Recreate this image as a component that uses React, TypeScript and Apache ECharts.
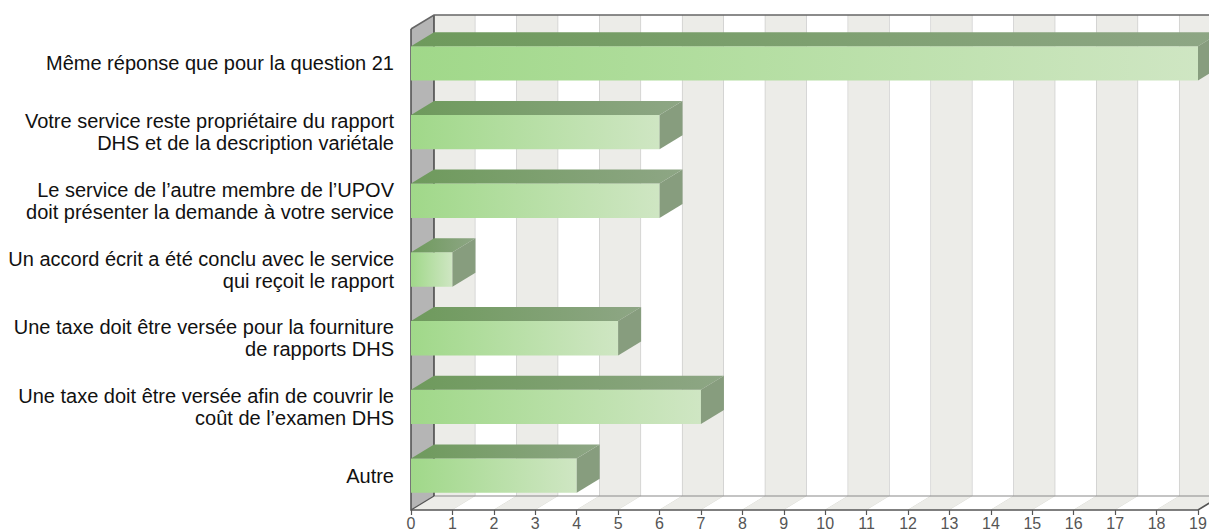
import React, { useEffect, useRef } from "react";
import * as echarts from "echarts";

const categories = [
  "Même réponse que pour la question 21",
  "Votre service reste propriétaire du rapport\nDHS et de la description variétale",
  "Le service de l’autre membre de l’UPOV\ndoit présenter la demande à votre service",
  "Un accord écrit a été conclu avec le service\nqui reçoit le rapport",
  "Une taxe doit être versée pour la fourniture\nde rapports DHS",
  "Une taxe doit être versée afin de couvrir le\ncoût de l’examen DHS",
  "Autre",
];
const values = [19, 6, 6, 1, 5, 7, 4];
const xTicks = [0, 1, 2, 3, 4, 5, 6, 7, 8, 9, 10, 11, 12, 13, 14, 15, 16, 17, 18, 19];

const DX = 23;
const DY = -14;

export default function App() {
  const ref = useRef<HTMLDivElement>(null);
  useEffect(() => {
    document.body.style.margin = "0";
    const chart = echarts.init(ref.current!, null, { renderer: "svg" });
    const bands = xTicks.slice(0, -1).map((t, i) => [t, xTicks[i + 1], i]);

    const option: any = {
      animation: false,
      grid: {
        left: 411,
        right: 11,
        top: 29,
        bottom: 22,
        containLabel: false,
        outerBoundsMode: "none",
      },
      xAxis: {
        type: "value",
        min: xTicks[0],
        max: xTicks[xTicks.length - 1],
        interval: 1,
        axisLine: { show: false },
        axisTick: { show: true, length: 5, lineStyle: { color: "#555", width: 1.2 } },
        splitLine: { show: false },
        axisLabel: {
          show: true,
          margin: 5,
          fontSize: 16,
          lineHeight: 16,
          fontFamily: "Liberation Sans, Arial, sans-serif",
          color: "#555",
          hideOverlap: false,
          showMaxLabel: true,
          showMinLabel: true,
        },
      },
      yAxis: {
        type: "category",
        data: categories,
        inverse: true,
        axisLine: { show: false },
        axisTick: { show: false },
        splitLine: { show: false },
        axisLabel: {
          margin: 17,
          fontSize: 20,
          lineHeight: 22,
          align: "right",
          color: "#111",
          fontFamily: "Liberation Sans, Arial, sans-serif",
        },
      },
      series: [
        {
          type: "custom",
          z: 1,
          clip: false,
          silent: true,
          data: bands,
          encode: { x: [0, 1] },
          renderItem: (params: any, api: any) => {
            const cs = params.coordSys;
            const x1 = api.coord([api.value(0), 0])[0];
            const x2 = api.coord([api.value(1), 0])[0];
            const idx = api.value(2);
            const top = cs.y;
            const bottom = cs.y + cs.height;
            const fill = idx % 2 === 0 ? "#ecece8" : "#ffffff";
            const children: any[] = [
              {
                type: "rect",
                shape: { x: x1 + DX, y: top + DY, width: x2 - x1, height: cs.height },
                style: { fill },
              },
              {
                type: "polygon",
                shape: {
                  points: [
                    [x1, bottom],
                    [x2, bottom],
                    [x2 + DX, bottom + DY],
                    [x1 + DX, bottom + DY],
                  ],
                },
                style: { fill },
              },
              {
                type: "line",
                shape: { x1: x2 + DX, y1: top + DY, x2: x2 + DX, y2: bottom + DY },
                style: { stroke: "#c4c4c4", lineWidth: 1.2 },
              },
              {
                type: "line",
                shape: { x1: x2, y1: bottom, x2: x2 + DX, y2: bottom + DY },
                style: { stroke: "#dcdcd6", lineWidth: 1 },
              },
            ];
            return { type: "group", children };
          },
        },
        {
          type: "custom",
          z: 2,
          clip: false,
          silent: true,
          data: [[xTicks[0]]],
          encode: { x: 0 },
          renderItem: (params: any, api: any) => {
            const cs = params.coordSys;
            const x0 = cs.x;
            const xr = cs.x + cs.width;
            const top = cs.y;
            const bottom = cs.y + cs.height;
            return {
              type: "group",
              children: [
                {
                  type: "polygon",
                  shape: {
                    points: [
                      [x0, top],
                      [x0 + DX, top + DY],
                      [x0 + DX, bottom + DY],
                      [x0, bottom],
                    ],
                  },
                  style: { fill: "#b5b5b5" },
                },
                {
                  type: "line",
                  shape: { x1: x0 + DX, y1: bottom + DY, x2: xr + DX, y2: bottom + DY },
                  style: { stroke: "#8a8a8a", lineWidth: 1.2 },
                },
                {
                  type: "line",
                  shape: { x1: x0 + DX, y1: top + DY, x2: x0 + DX, y2: bottom + DY },
                  style: { stroke: "#444", lineWidth: 1.5 },
                },
                {
                  type: "polyline",
                  shape: { points: [[x0, top], [x0 + DX, top + DY], [xr + DX + 40, top + DY]] },
                  style: { stroke: "#666", lineWidth: 1.6, fill: "none" },
                },
                {
                  type: "polyline",
                  shape: { points: [[x0, top], [x0, bottom], [xr, bottom], [xr + DX, bottom + DY]] },
                  style: { stroke: "#555", lineWidth: 1.6, fill: "none" },
                },
                {
                  type: "line",
                  shape: { x1: x0, y1: bottom, x2: x0 + DX, y2: bottom + DY },
                  style: { stroke: "#555", lineWidth: 1.2 },
                },
              ],
            };
          },
        },
        {
          type: "custom",
          z: 3,
          clip: false,
          silent: true,
          data: values.map((v, i) => [v, i]),
          encode: { x: 0, y: 1 },
          renderItem: (params: any, api: any) => {
            const v = api.value(0);
            const c = api.value(1);
            const [xv, yc] = api.coord([v, c]);
            const x0 = api.coord([0, c])[0];
            const h = api.size([0, 1])[1] * 0.5;
            const yt = yc - h / 2;
            const yb = yc + h / 2;
            return {
              type: "group",
              children: [
                {
                  type: "rect",
                  shape: { x: x0, y: yt, width: xv - x0, height: h },
                  style: {
                    fill: new echarts.graphic.LinearGradient(0, 0, 1, 0, [
                      { offset: 0, color: "#a0d889" },
                      { offset: 1, color: "#cfe6c3" },
                    ]),
                  },
                },
                {
                  type: "polygon",
                  shape: {
                    points: [
                      [x0, yt],
                      [xv, yt],
                      [xv + DX, yt + DY],
                      [x0 + DX, yt + DY],
                    ],
                  },
                  style: {
                    fill: new echarts.graphic.LinearGradient(0, 0, 1, 0, [
                      { offset: 0, color: "#6e9a5c" },
                      { offset: 1, color: "#8ea685" },
                    ]),
                  },
                },
                {
                  type: "polygon",
                  shape: {
                    points: [
                      [xv, yt],
                      [xv + DX, yt + DY],
                      [xv + DX, yb + DY],
                      [xv, yb],
                    ],
                  },
                  style: { fill: "#879d7e" },
                },
              ],
            };
          },
        },
      ],
    };
    chart.setOption(option);
    return () => chart.dispose();
  }, []);
  return <div ref={ref} style={{ width: 1209, height: 532 }} />;
}
